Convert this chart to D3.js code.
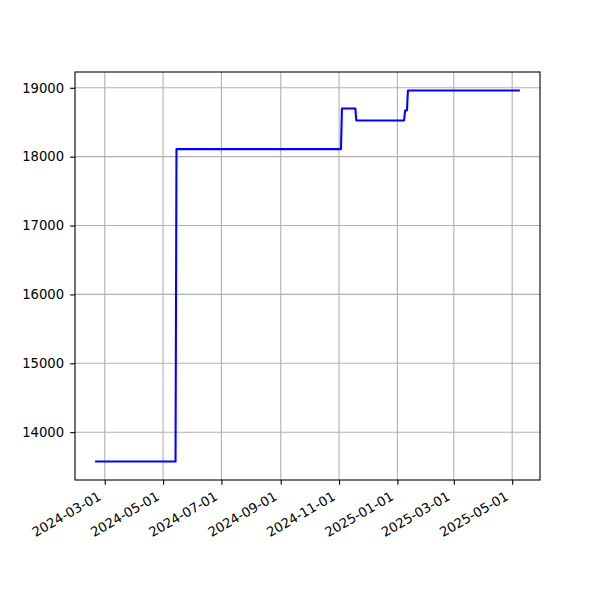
<!DOCTYPE html>
<html><head><meta charset="utf-8">
<script src="https://cdn.jsdelivr.net/npm/d3@7"></script>
<style>html,body{margin:0;padding:0;background:#fff}</style>
</head><body>
<svg id="c" width="600" height="600"></svg>
<script>
const dates = ["2024-02-21","2024-05-14","2024-05-15","2024-11-03","2024-11-04","2024-11-18","2024-11-19","2025-01-08","2025-01-09","2025-01-11","2025-01-12","2025-05-08"];
const values = [13575,13575,18110,18110,18700,18700,18525,18525,18670,18670,18960,18960];
const xTickLabels = ["2024-03-01","2024-05-01","2024-07-01","2024-09-01","2024-11-01","2025-01-01","2025-03-01","2025-05-01"];
const yTicks = [14000,15000,16000,17000,18000,19000];

const parse = d3.utcParse("%Y-%m-%d");
const data = dates.map((d,i)=>({date:parse(d), value:values[i]}));
const L=75,R=540,T=72,B=480;
const svg = d3.select("#c");
const font = "DejaVu Sans, sans-serif";
const fs = "13.2px";

const xe = d3.extent(data,d=>+d.date), xm=(xe[1]-xe[0])*0.05;
const x = d3.scaleUtc().domain([new Date(xe[0]-xm), new Date(xe[1]+xm)]).range([L,R]);
const ye = d3.extent(data,d=>d.value), ym=(ye[1]-ye[0])*0.05;
const y = d3.scaleLinear().domain([ye[0]-ym, ye[1]+ym]).range([B,T]);
const xTicks = xTickLabels.map(parse);

// grid
const g = svg.append("g");
g.selectAll(".gx").data(xTicks).enter().append("line")
 .attr("x1",d=>x(d)).attr("x2",d=>x(d)).attr("y1",T).attr("y2",B)
 .attr("stroke","#b0b0b0").attr("stroke-width",1.1);
g.selectAll(".gy").data(yTicks).enter().append("line")
 .attr("y1",d=>y(d)).attr("y2",d=>y(d)).attr("x1",L).attr("x2",R)
 .attr("stroke","#b0b0b0").attr("stroke-width",1.1);

// line
svg.append("path").datum(data)
 .attr("d", d3.line().x(d=>x(d.date)).y(d=>y(d.value)))
 .attr("fill","none").attr("stroke","#0000ff").attr("stroke-width",2.08)
 .attr("stroke-linejoin","round").attr("stroke-linecap","square");

// axes
const xa = svg.append("g").attr("transform",`translate(0,${B})`)
 .call(d3.axisBottom(x).tickValues(xTicks).tickSize(4.86).tickPadding(0).tickFormat(""));
const ya = svg.append("g").attr("transform",`translate(${L},0)`)
 .call(d3.axisLeft(y).tickValues(yTicks).tickSize(4.86).tickPadding(6).tickFormat(d3.format("d")));
[xa,ya].forEach(a=>{a.select(".domain").remove(); a.selectAll("line").attr("stroke","#000").attr("stroke-width",1.1);});
ya.selectAll("text").attr("font-family",font).attr("font-size",fs).attr("fill","#000");

// rotated x labels
svg.append("g").selectAll("text").data(xTicks).enter().append("text")
 .attr("transform",d=>`translate(${x(d)-2.8},${B+19}) rotate(-30)`)
 .attr("text-anchor","end").attr("font-family",font).attr("font-size",fs).attr("fill","#000")
 .text((d,i)=>xTickLabels[i]);

// frame
svg.append("rect").attr("x",L).attr("y",T).attr("width",R-L).attr("height",B-T)
 .attr("fill","none").attr("stroke","#000").attr("stroke-width",1.1);
</script>
</body></html>
